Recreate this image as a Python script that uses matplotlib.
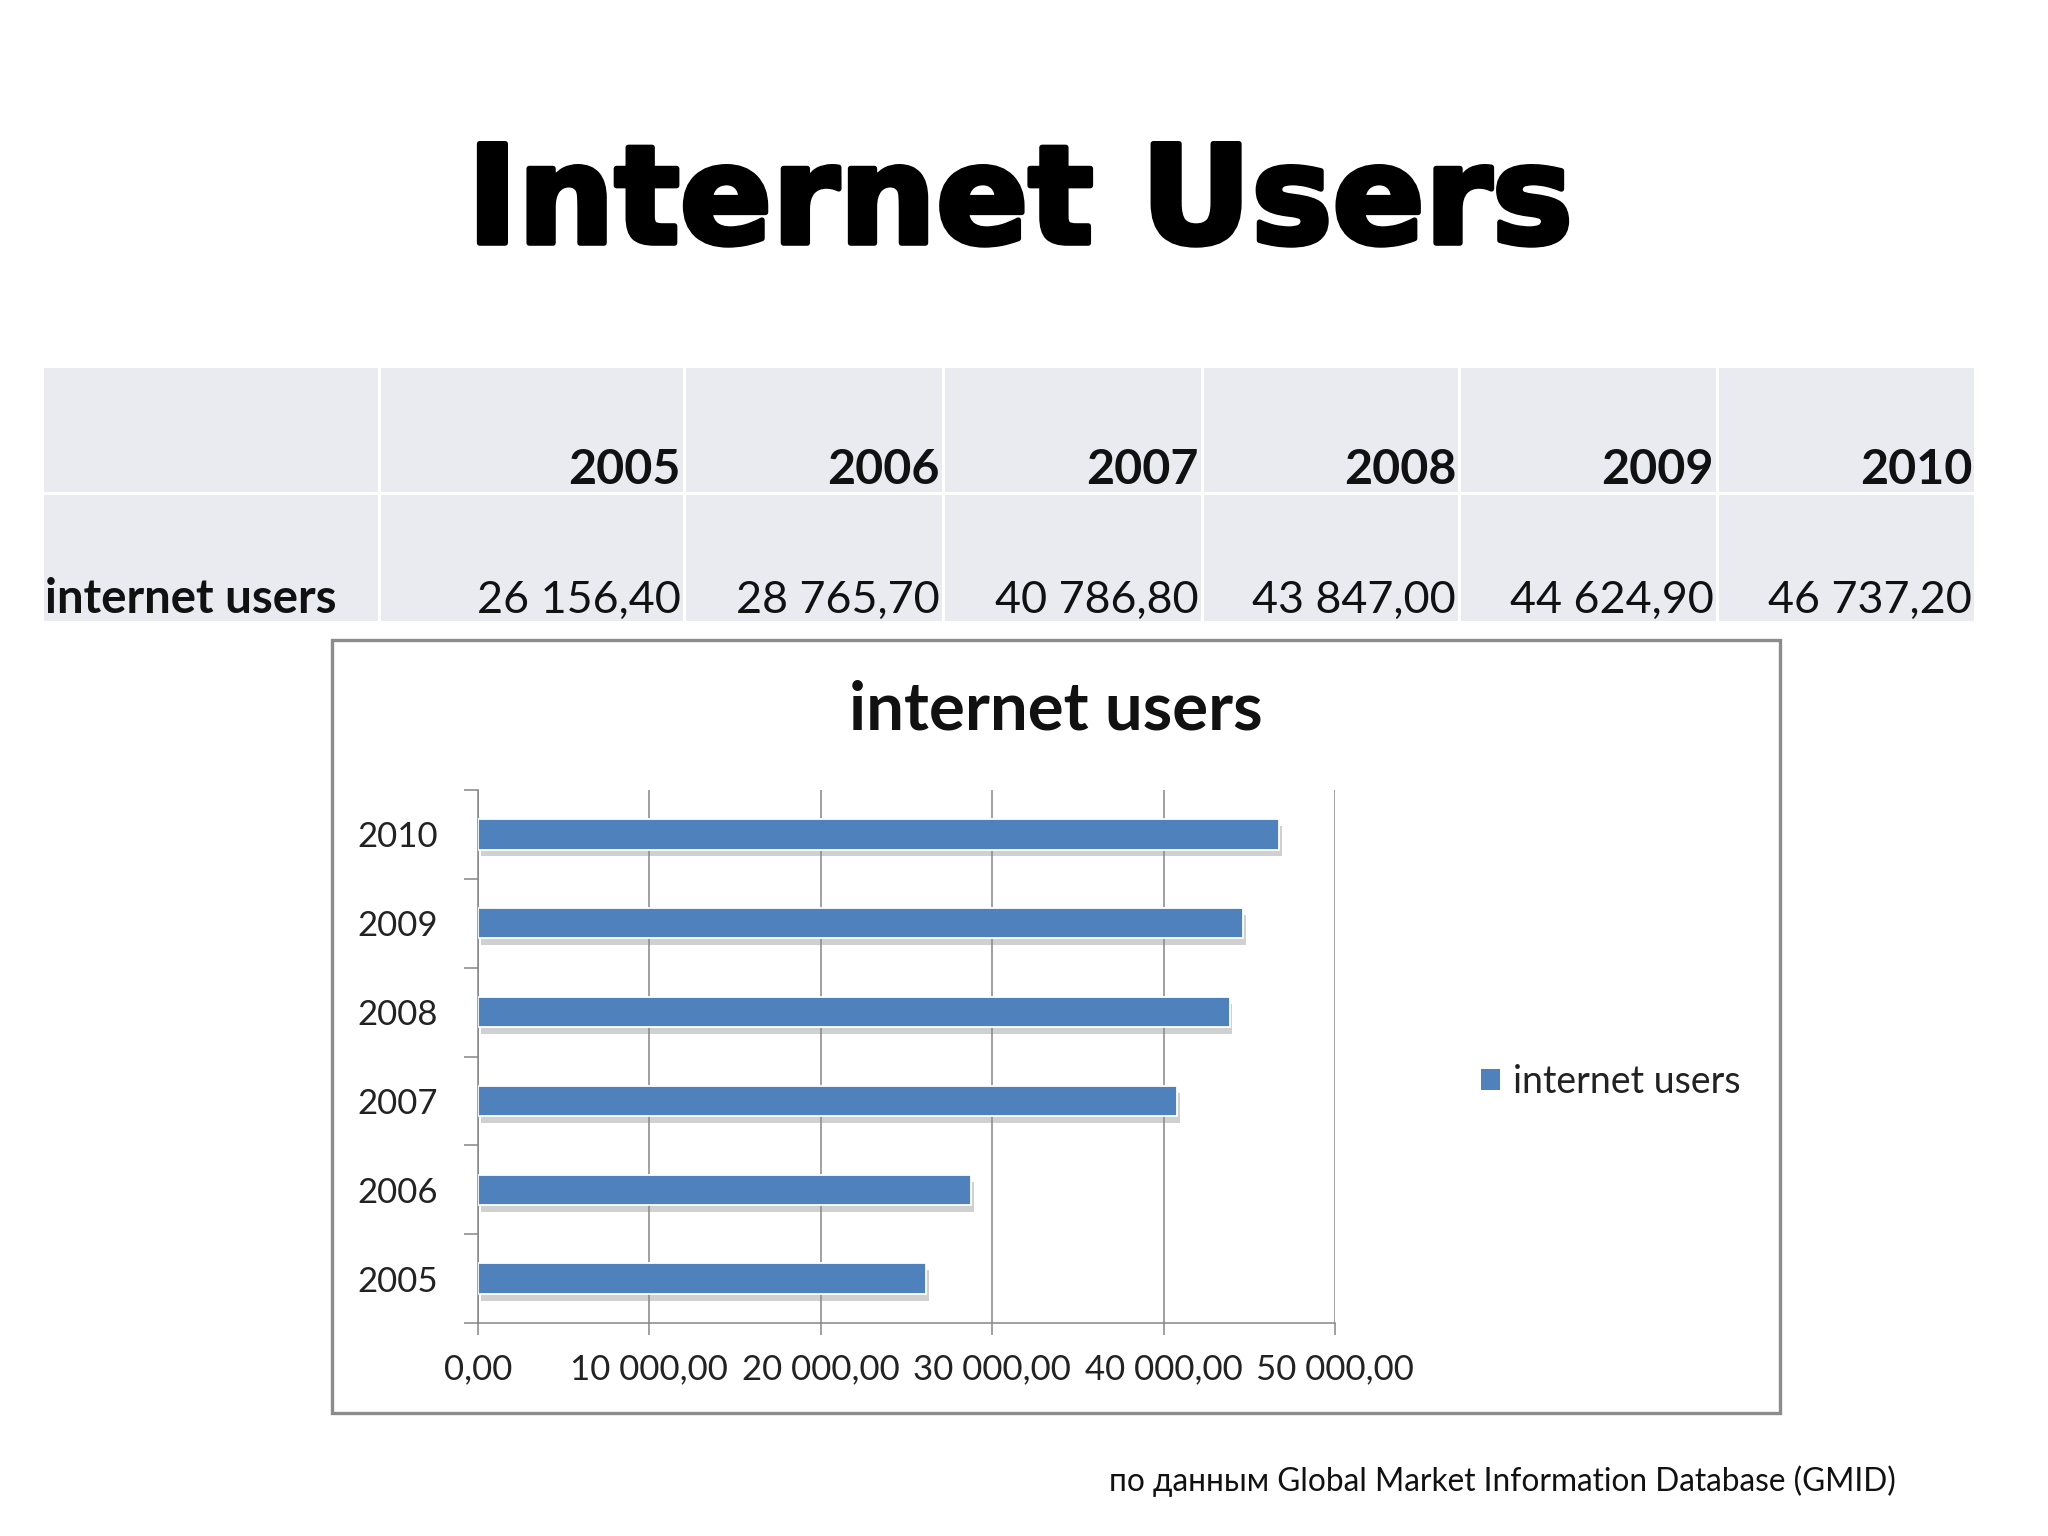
import matplotlib
matplotlib.use('Agg')
import matplotlib.pyplot as plt
from matplotlib.patches import Rectangle, Patch
from matplotlib import patheffects as pe
from matplotlib.ticker import FuncFormatter

# ---------------- data ----------------
years = ['2005', '2006', '2007', '2008', '2009', '2010']
users = [26156.40, 28765.70, 40786.80, 43847.00, 44624.90, 46737.20]
x_ticks = [0, 10000, 20000, 30000, 40000, 50000]
series_name = 'internet users'
page_title = 'Internet Users'
source_note = 'по данным Global Market Information Database (GMID)'

# ---------------- style ----------------
W, H = 2048, 1536
SANS = ['Lato', 'DejaVu Sans']
BAR = '#4F81BD'
CELL = '#E9EBF1'
GRID = '#868686'
TXT = '#111111'


def fmt(v):
    return f'{v:,.2f}'.replace(',', ' ').replace('.', ',')


fig = plt.figure(figsize=(W / 100, H / 100), dpi=100)
fig.patch.set_facecolor('white')
renderer = fig.canvas.get_renderer()

# full-figure pixel-coordinate layer for layout elements
bg = fig.add_axes([0, 0, 1, 1])
bg.set_xlim(0, W)
bg.set_ylim(H, 0)
bg.axis('off')
bg.set_zorder(0)


def fit(t, target_w):
    w = t.get_window_extent(renderer).width
    t.set_fontsize(t.get_fontsize() * target_w / w)
    return t.get_fontsize()


# ---------------- page title ----------------
tt = bg.text(1020, 243, page_title, ha='center', va='baseline',
             family='DejaVu Sans', fontweight='bold', fontsize=98, color='black',
             path_effects=[pe.withStroke(linewidth=4, foreground='black')])

# ---------------- table ----------------
col_edges = [42, 379, 684, 943, 1202, 1459, 1717, 1975]
row_edges = [366, 493, 622]
gap = 1.5
for r in range(2):
    for c in range(len(col_edges) - 1):
        x0, x1 = col_edges[c], col_edges[c + 1]
        y0, y1 = row_edges[r], row_edges[r + 1]
        bg.add_patch(Rectangle((x0 + gap, y0 + gap), x1 - x0 - 2 * gap, y1 - y0 - 2 * gap,
                               facecolor=CELL, edgecolor='none'))

# sample-based font sizes
probe = bg.text(0, 0, years[0], fontweight='bold', family=SANS, fontsize=34)
fs_head = fit(probe, 112)
probe.remove()
probe = bg.text(0, 0, fmt(users[0]), family=SANS, fontsize=29)
fs_val = fit(probe, 204)
probe.remove()

lab = bg.text(45, 613, series_name, ha='left', va='baseline', fontweight='bold',
              family=SANS, fontsize=34, color=TXT)
fit(lab, 292)
for i, (yr, v) in enumerate(zip(years, users)):
    xr = col_edges[i + 2] - 3
    bg.text(xr, 484, yr, ha='right', va='baseline', fontweight='bold',
            family=SANS, fontsize=fs_head, color=TXT)
    bg.text(xr, 613, fmt(v), ha='right', va='baseline',
            family=SANS, fontsize=fs_val, color=TXT)

# ---------------- chart frame ----------------
bg.add_patch(Rectangle((332, 640), 1780 - 332, 1413 - 640, fill=False,
                       edgecolor='#8C8C8C', linewidth=2.4))
ct = bg.text(1056, 729, series_name, ha='center', va='baseline', fontweight='bold',
             family=SANS, fontsize=48, color=TXT)
fit(ct, 414)

# ---------------- bar chart ----------------
ax = fig.add_axes([478 / W, 1 - 1323 / H, (1335 - 478) / W, (1323 - 790) / H])
ax.set_zorder(2)
ax.patch.set_alpha(0)
ypos = list(range(len(years)))
bars = ax.barh(ypos, users, height=0.34, color=BAR, edgecolor='white',
               linewidth=1.3, zorder=3)
for b in bars:
    b.set_path_effects([pe.SimplePatchShadow(offset=(2, -5), shadow_rgbFace='#8a8a8a', alpha=0.4),
                        pe.Normal()])

ax.set_xlim(x_ticks[0], x_ticks[-1])
ax.set_ylim(-0.5, len(years) - 0.5)
ax.set_xticks(x_ticks)
ax.xaxis.set_major_formatter(FuncFormatter(lambda v, p: fmt(v)))
ax.grid(axis='x', color=GRID, linewidth=1.1)
ax.set_axisbelow(True)
for s in ['top', 'right']:
    ax.spines[s].set_visible(False)
for s in ['left', 'bottom']:
    ax.spines[s].set_color(GRID)
    ax.spines[s].set_linewidth(1.1)

ax.set_yticks([i - 0.5 for i in range(len(years) + 1)])
ax.set_yticklabels([])
ax.set_yticks(ypos, minor=True)
ax.set_yticklabels(years, minor=True)
ax.tick_params(axis='y', which='major', length=10, width=1.1, color=GRID, direction='out')
ax.tick_params(axis='y', which='minor', length=0, pad=29, labelsize=25, labelcolor='#222222')
ax.tick_params(axis='x', which='major', length=8.6, width=1.1, color=GRID, direction='out',
               pad=13, labelsize=25, labelcolor='#222222')
for lbl in ax.get_xticklabels() + ax.get_yticklabels(minor=True):
    lbl.set_family(SANS)

handle = Patch(facecolor=BAR, edgecolor='none')
ax.legend([handle], [series_name], loc='center left',
          bbox_to_anchor=(1481 / W, 1 - 1082 / H), bbox_transform=fig.transFigure,
          frameon=False, prop={'family': SANS, 'size': 27},
          handlelength=0.5, handleheight=0.5, handletextpad=0.35,
          borderpad=0, borderaxespad=0, labelcolor='#222222')

# ---------------- source note ----------------
sn = bg.text(1109, 1491, source_note, ha='left', va='baseline',
             family=SANS, fontsize=22, color=TXT)
fit(sn, 785)

fig.savefig('out.png', dpi=100)
